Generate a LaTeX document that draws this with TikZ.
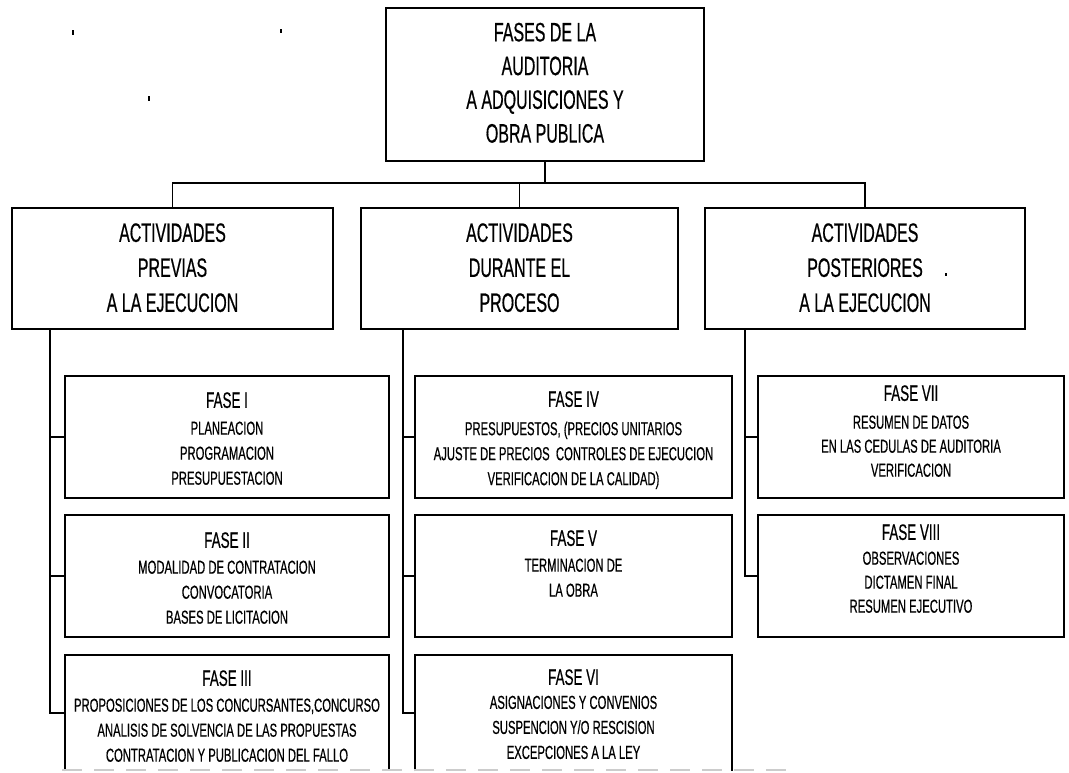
\documentclass[tikz,border=0pt]{standalone}
\usepackage{fontspec}
\setmainfont{Liberation Sans}[FakeStretch=0.6,FakeBold=0.5]
\usetikzlibrary{fit,calc}
\newcommand\topfnt{\fontsize{20}{25.3}\selectfont}
\newcommand\lvfnt{\fontsize{20}{26.25}\selectfont}
\newcommand\ttlfnt{\fontsize{16.8}{18}\selectfont}
\newcommand\smlfnt{\fontsize{14.1}{18.75}\selectfont}
\newcommand\smlfntr{\fontsize{14.1}{18}\selectfont}
\begin{document}
\begin{tikzpicture}[x=0.75pt,y=-0.75pt,
  box/.style={draw, line width=1.4pt, inner sep=0pt, outer sep=0pt},
  frame/.style={inner sep=0pt, outer sep=0pt},
  boxline/.style={line width=1.4pt},
  conn/.style={line width=1.4pt},
  lbl/.style={inner sep=0pt, align=center, anchor=north},
  dashline/.style={gray!40, line width=1pt, dash pattern=on 15pt off 9pt},
  speck/.style={fill=black}]

\fill[white] (0,0) rectangle (1069,773);
\useasboundingbox (0,0) rectangle (1069,773);

% top box
\node[box, fit={(386,8) (704,161)}] (top) {};
\node[lbl, font=\topfnt] (toptxt) at (545,22.5) {FASES DE LA\\AUDITORIA\\A ADQUISICIONES Y\\OBRA PUBLICA};

% level 2
\node[box, fit={(12,208) (333,329)}] (l2a) {};
\node[box, fit={(361,208) (678,329)}] (l2b) {};
\node[box, fit={(705,208) (1025,329)}] (l2c) {};
\node[lbl, font=\lvfnt] (l2atxt) at (172.5,223) {ACTIVIDADES\\PREVIAS\\A LA EJECUCION};
\node[lbl, font=\lvfnt] (l2btxt) at (519.5,223) {ACTIVIDADES\\DURANTE EL\\PROCESO};
\node[lbl, font=\lvfnt] (l2ctxt) at (865,223) {ACTIVIDADES\\POSTERIORES\\A LA EJECUCION};

% left column
\node[box, fit={(65,376) (389,498)}] (f1) {};
\node[box, fit={(65,515) (389,637)}] (f2) {};
\node[frame, fit={(65,655) (389,771)}] (f3) {};
\draw[boxline] (f3.south west) -- (f3.north west) -- (f3.north east) -- (f3.south east);
\node[lbl, font=\ttlfnt] (f1t) at (227,392) {FASE I};
\node[lbl, font=\smlfnt] (f1l) at (227,421.3) {PLANEACION\\PROGRAMACION\\PRESUPUESTACION};
\node[lbl, font=\ttlfnt] (f2t) at (227,532) {FASE II};
\node[lbl, font=\smlfnt] (f2l) at (227,560.3) {MODALIDAD DE CONTRATACION\\CONVOCATORIA\\BASES DE LICITACION};
\node[lbl, font=\ttlfnt] (f3t) at (227,670) {FASE III};
\node[lbl, font=\smlfnt] (f3l) at (227,698.3) {PROPOSICIONES DE LOS CONCURSANTES,CONCURSO\\ANALISIS DE SOLVENCIA DE LAS PROPUESTAS\\CONTRATACION Y PUBLICACION DEL FALLO};

% middle column
\node[box, fit={(415,376) (732,498)}] (f4) {};
\node[box, fit={(415,515) (732,637)}] (f5) {};
\node[frame, fit={(415,655) (732,771)}] (f6) {};
\draw[boxline] (f6.south west) -- (f6.north west) -- (f6.north east) -- (f6.south east);
\node[lbl, font=\ttlfnt] (f4t) at (573.5,391) {FASE IV};
\node[lbl, font=\smlfnt] (f4l) at (573.5,421.3) {PRESUPUESTOS, (PRECIOS UNITARIOS\\AJUSTE DE PRECIOS\ \ CONTROLES DE EJECUCION\\VERIFICACION DE LA CALIDAD)};
\node[lbl, font=\ttlfnt] (f5t) at (573.5,530) {FASE V};
\node[lbl, font=\smlfnt] (f5l) at (573.5,558.3) {TERMINACION DE\\LA OBRA};
\node[lbl, font=\ttlfnt] (f6t) at (573.5,669) {FASE VI};
\node[lbl, font=\smlfnt] (f6l) at (573.5,695.5) {ASIGNACIONES Y CONVENIOS\\SUSPENCION Y/O RESCISION\\EXCEPCIONES A LA LEY};

% right column
\node[box, fit={(758,376) (1064,498)}] (f7) {};
\node[box, fit={(758,515) (1064,637)}] (f8) {};
\node[lbl, font=\ttlfnt] (f7t) at (911,385) {FASE VII};
\node[lbl, font=\smlfntr] (f7l) at (911,415.3) {RESUMEN DE DATOS\\EN LAS CEDULAS DE AUDITORIA\\VERIFICACION};
\node[lbl, font=\ttlfnt] (f8t) at (911,524) {FASE VIII};
\node[lbl, font=\smlfntr] (f8l) at (911,551.3) {OBSERVACIONES\\DICTAMEN FINAL\\RESUMEN EJECUTIVO};

% top connectors
\coordinate (bus) at (0,183);
\draw[conn] (top.south) -- (top.south |- bus);
\draw[conn] (l2a.north) -- (l2a.north |- bus) -- (l2c.north |- bus) -- (l2c.north);
\draw[conn] (l2b.north) -- (l2b.north |- bus);

% column connectors
\coordinate (ca) at ($(l2a.south west)+(38,0)$);
\coordinate (cb) at ($(l2b.south west)+(42,0)$);
\coordinate (cc) at ($(l2c.south west)+(40,0)$);
\draw[conn] (ca) |- (f3.west);
\draw[conn] (ca |- f1.west) -- (f1.west);
\draw[conn] (ca |- f2.west) -- (f2.west);
\draw[conn] (cb) |- (f6.west);
\draw[conn] (cb |- f4.west) -- (f4.west);
\draw[conn] (cb |- f5.west) -- (f5.west);
\draw[conn] (cc) |- (f8.west);
\draw[conn] (cc |- f7.west) -- (f7.west);

% cut-off bottom edge of the scan
\draw[dashline] (62,770) -- (795,770);

% specks of the scan
\fill[speck] (71.5,30) rectangle (73.5,35);
\fill[speck] (280,29) rectangle (282,33);
\fill[speck] (148,96) rectangle (150,101);
\fill[speck] (945,273) rectangle (947,276);
\end{tikzpicture}
\end{document}
